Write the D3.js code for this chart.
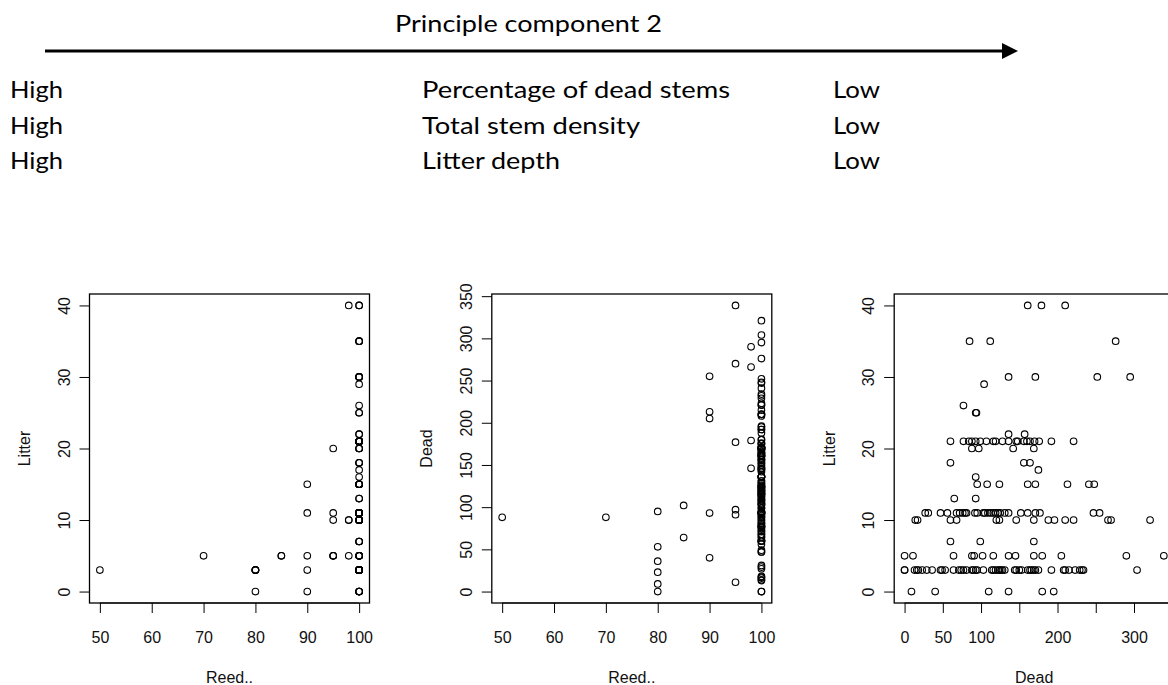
<!DOCTYPE html>
<html>
<head>
<meta charset="utf-8">
<script src="https://cdn.jsdelivr.net/npm/d3@7"></script>
<style>
  html, body { margin: 0; padding: 0; background: #fff; }
  svg { display: block; }
</style>
</head>
<body>
<svg id="chart" width="1168" height="685"></svg>
<script>
// Header text for the principal-component gradient
const headerTitle = "Principle component 2";
const gradientVars = ["Percentage of dead stems", "Total stem density", "Litter depth"];
const highLabel = "High";
const lowLabel = "Low";

// Quadrat records: reed cover (%), dead stems, litter depth.
// Grouped line by line by litter depth; the three arrays run in parallel.
const dead = [
  161, 179, 210,
  85, 112, 276,
  136, 171, 252, 295,
  104,
  77,
  93, 94,
  136, 157,
  60, 77, 84, 88, 93, 99, 107, 116, 119, 128, 136, 146, 148, 156, 160, 164, 170, 176, 192, 221,
  88, 97, 142, 169,
  60, 156, 164,
  175,
  93,
  95, 108, 124, 161, 171, 213, 241, 248,
  65, 93,
  27, 31, 47, 56, 68, 72, 76, 79, 81, 92, 95, 103, 105, 109, 113, 116, 119, 122, 125, 131, 136, 152, 161, 171, 177, 247, 255,
  14, 17, 60, 68, 120, 124, 146, 169, 188, 196, 210, 221, 266, 270, 321,
  60, 99, 169,
  0, 11, 64, 88, 91, 102, 116, 136, 145, 169, 180, 205, 290, 339,
  0, 0, 13, 16, 18, 23, 29, 36, 47, 49, 53, 64, 71, 74, 77, 81, 88, 90, 93, 95,
  103, 114, 116, 119, 122, 124, 126, 128, 131, 144, 146, 150, 153, 161, 164, 166, 169, 171, 175, 192,
  208, 210, 215, 223, 229, 232, 234, 304,
  9, 40, 110, 136, 180, 195
];
const litter = [
  40, 40, 40,
  35, 35, 35,
  30, 30, 30, 30,
  29,
  26,
  25, 25,
  22, 22,
  21, 21, 21, 21, 21, 21, 21, 21, 21, 21, 21, 21, 21, 21, 21, 21, 21, 21, 21, 21,
  20, 20, 20, 20,
  18, 18, 18,
  17,
  16,
  15, 15, 15, 15, 15, 15, 15, 15,
  13, 13,
  11, 11, 11, 11, 11, 11, 11, 11, 11, 11, 11, 11, 11, 11, 11, 11, 11, 11, 11, 11, 11, 11, 11, 11, 11, 11, 11,
  10, 10, 10, 10, 10, 10, 10, 10, 10, 10, 10, 10, 10, 10, 10,
  7, 7, 7,
  5, 5, 5, 5, 5, 5, 5, 5, 5, 5, 5, 5, 5, 5,
  3, 3, 3, 3, 3, 3, 3, 3, 3, 3, 3, 3, 3, 3, 3, 3, 3, 3, 3, 3,
  3, 3, 3, 3, 3, 3, 3, 3, 3, 3, 3, 3, 3, 3, 3, 3, 3, 3, 3, 3,
  3, 3, 3, 3, 3, 3, 3, 3,
  0, 0, 0, 0, 0, 0
];
const reed = [
  100, 98, 100,
  100, 100, 100,
  100, 100, 100, 100,
  100,
  100,
  100, 100,
  100, 100,
  100, 100, 100, 100, 100, 100, 100, 100, 100, 100, 100, 100, 100, 100, 100, 100, 100, 100, 100, 100,
  100, 95, 100, 100,
  100, 100, 100,
  100,
  100,
  100, 100, 100, 100, 100, 90, 100, 100,
  100, 100,
  100, 100, 100, 100, 100, 100, 100, 100, 100, 100, 100, 100, 100, 100, 100, 100, 100, 100, 100, 100, 100, 100, 100, 100, 95, 100, 90,
  100, 100, 100, 100, 100, 100, 98, 100, 100, 100, 100, 100, 98, 95, 100,
  100, 100, 100,
  100, 95, 85, 70, 95, 85, 100, 100, 100, 100, 100, 90, 98, 95,
  80, 100, 100, 100, 100, 80, 100, 80, 100, 100, 80, 100, 100, 100, 100, 100, 50, 100, 90, 80,
  100, 100, 100, 100, 100, 100, 100, 100, 100, 100, 100, 100, 100, 100, 100, 100, 100, 100, 100, 100,
  100, 100, 100, 100, 100, 100, 100, 100,
  80, 90, 100, 100, 100, 100
];

// Tick values for each axis
const reedTicks = [50, 60, 70, 80, 90, 100];
const litterTicks = [0, 10, 20, 30, 40];
const deadTicks = [0, 50, 100, 150, 200, 250, 300, 350];
const deadTickLabelsShown = [0, 50, 100, 200, 300];

const records = reed.map((r, i) => ({ reed: r, dead: dead[i], litter: litter[i] }));

const svg = d3.select("#chart");

// ---------- header: title, arrow and gradient table ----------
const headFont = "Lato, 'Open Sans', sans-serif";
const headSize = 24;
svg.append("text")
  .attr("x", 395).attr("y", 32)
  .attr("font-family", headFont).attr("font-size", headSize)
  .attr("textLength", 267).attr("lengthAdjust", "spacingAndGlyphs")
  .text(headerTitle);

svg.append("line")
  .attr("x1", 45).attr("x2", 1004).attr("y1", 51).attr("y2", 51)
  .attr("stroke", "#000").attr("stroke-width", 3);
svg.append("path")
  .attr("d", "M1002,43 L1018,51 L1002,59 Z")
  .attr("fill", "#000");

const rowBase = [98, 133.5, 169];
const varWidths = [308, 218, 138];
gradientVars.forEach((v, i) => {
  svg.append("text").attr("x", 10).attr("y", rowBase[i])
    .attr("font-family", headFont).attr("font-size", headSize)
    .attr("textLength", 53).attr("lengthAdjust", "spacingAndGlyphs")
    .text(highLabel);
  svg.append("text").attr("x", 422).attr("y", rowBase[i])
    .attr("font-family", headFont).attr("font-size", headSize)
    .attr("textLength", varWidths[i]).attr("lengthAdjust", "spacingAndGlyphs")
    .text(v);
  svg.append("text").attr("x", 833).attr("y", rowBase[i])
    .attr("font-family", headFont).attr("font-size", headSize)
    .attr("textLength", 47).attr("lengthAdjust", "spacingAndGlyphs")
    .text(lowLabel);
});

// ---------- scatter panels ----------
const axisFont = "'Liberation Sans', Arial, sans-serif";
const plotTop = 294, plotBottom = 603, panelW = 280;

// R-style range: data extent padded by 4% on each side
function paddedExtent(values) {
  const [a, b] = d3.extent(values);
  const p = (b - a) * 0.04;
  return [a - p, b + p];
}

function drawPanel(opt) {
  const g = svg.append("g");
  const left = opt.left, right = left + panelW;
  const x = d3.scaleLinear().domain(paddedExtent(records.map(d => d[opt.xKey]))).range([left, right]);
  const y = d3.scaleLinear().domain(paddedExtent(records.map(d => d[opt.yKey]))).range([plotBottom, plotTop]);

  const xAxis = d3.axisBottom(x).tickValues(opt.xTicks).tickSizeInner(10).tickSizeOuter(0)
    .tickPadding(19).tickFormat(d => (opt.xShown ? (opt.xShown.includes(d) ? d : "") : d));
  const gx = g.append("g").attr("transform", `translate(0,${plotBottom})`).call(xAxis);
  gx.select(".domain").remove();
  gx.selectAll("text").attr("font-family", axisFont).attr("font-size", 16).attr("fill", "#111");
  gx.selectAll("line").attr("stroke", "#000");

  const yAxis = d3.axisLeft(y).tickValues(opt.yTicks).tickSizeInner(10).tickSizeOuter(0);
  const gy = g.append("g").attr("transform", `translate(${left},0)`).call(yAxis);
  gy.select(".domain").remove();
  gy.selectAll("line").attr("stroke", "#000");
  gy.selectAll("text")
    .attr("dy", null)
    .attr("transform", "rotate(-90)")
    .attr("x", 0).attr("y", -25.5)
    .attr("text-anchor", "middle")
    .attr("dominant-baseline", "central")
    .attr("font-family", axisFont).attr("font-size", 16).attr("fill", "#111");

  // axis line from first to last tick, then the plot box
  g.append("line").attr("x1", x(opt.xTicks[0])).attr("x2", Math.min(x(opt.xTicks[opt.xTicks.length - 1]), right))
    .attr("y1", plotBottom).attr("y2", plotBottom).attr("stroke", "#000");
  g.append("rect").attr("x", left).attr("y", plotTop).attr("width", panelW).attr("height", plotBottom - plotTop)
    .attr("fill", "none").attr("stroke", "#000").attr("stroke-width", 1.3);

  g.append("g").selectAll("circle").data(records).join("circle")
    .attr("cx", d => x(d[opt.xKey]))
    .attr("cy", d => y(d[opt.yKey]))
    .attr("r", 3.3)
    .attr("fill", "none").attr("stroke", "#000").attr("stroke-width", 1.1);

  g.append("text").attr("x", left + panelW / 2).attr("y", 677)
    .attr("text-anchor", "middle").attr("dominant-baseline", "central")
    .attr("font-family", axisFont).attr("font-size", 16).attr("fill", "#111")
    .text(opt.xTitle);
  g.append("text")
    .attr("transform", `translate(${left - 65},${(plotTop + plotBottom) / 2}) rotate(-90)`)
    .attr("text-anchor", "middle").attr("dominant-baseline", "central")
    .attr("font-family", axisFont).attr("font-size", 16).attr("fill", "#111")
    .text(opt.yTitle);
}

drawPanel({ left: 89.5, xKey: "reed", yKey: "litter", xTicks: reedTicks, yTicks: litterTicks, xTitle: "Reed..", yTitle: "Litter" });
drawPanel({ left: 491.8, xKey: "reed", yKey: "dead", xTicks: reedTicks, yTicks: deadTicks, xTitle: "Reed..", yTitle: "Dead" });
drawPanel({ left: 894.2, xKey: "dead", yKey: "litter", xTicks: deadTicks, yTicks: litterTicks, xShown: deadTickLabelsShown, xTitle: "Dead", yTitle: "Litter" });
</script>
</body>
</html>
